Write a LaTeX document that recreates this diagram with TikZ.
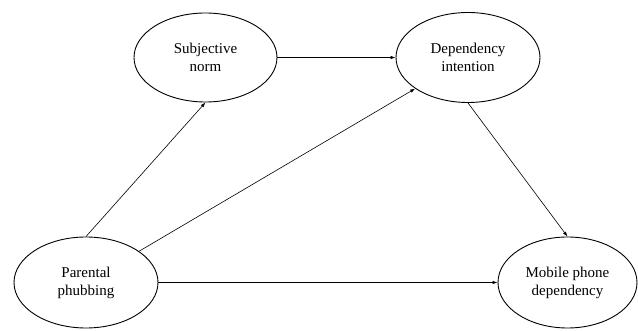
\documentclass[tikz,border=0pt]{standalone}
\usepackage{fontspec}
\setmainfont{Liberation Serif}
\usetikzlibrary{shapes.geometric,arrows.meta}
\begin{document}
\begin{tikzpicture}[x=1pt,y=-1pt,
  construct/.style={ellipse,draw,line width=0.9pt,inner sep=0pt,align=center,
    font=\fontsize{15}{18}\selectfont},
  link/.style={-{Latex[length=5pt,width=3.5pt]},line width=0.6pt}]
\useasboundingbox (0,0) rectangle (638,331);
\node[construct,minimum width=144pt,minimum height=91pt] (pp) at (86,282.5) {Parental\\phubbing};
\node[construct,minimum width=139pt,minimum height=91pt] (mpd) at (567.5,282.5) {Mobile phone\\dependency};
\node[construct,minimum width=143pt,minimum height=89pt] (sn) at (205.5,57.5) {Subjective\\norm};
\node[construct,minimum width=144pt,minimum height=90pt] (di) at (468,57.5) {Dependency\\intention};
\draw[link] (pp.north) -- (sn.south);
\draw[link] (sn.east) -- (di.west);
\draw[link] (pp) -- (di);
\draw[link] (di.south) -- (mpd.north);
\draw[link] (pp.east) -- (mpd.west);
\end{tikzpicture}
\end{document}
